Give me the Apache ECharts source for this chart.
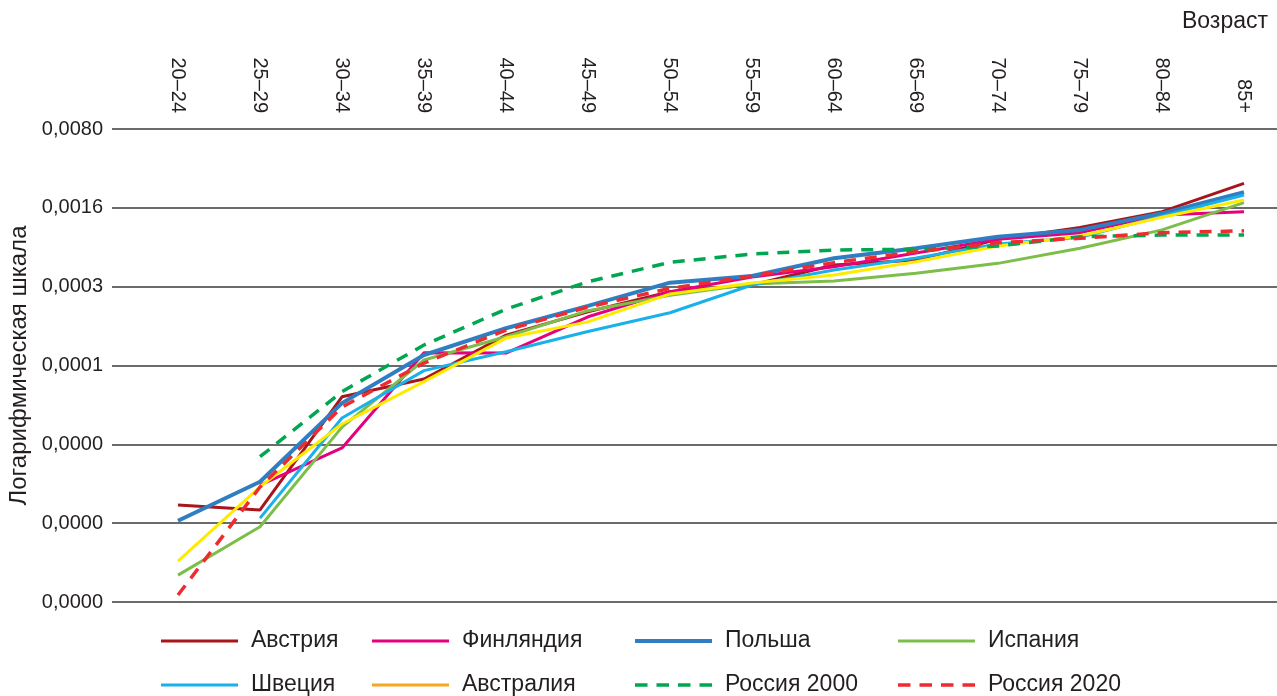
<!DOCTYPE html>
<html>
<head>
<meta charset="utf-8">
<script src="https://cdn.jsdelivr.net/npm/echarts@6/dist/echarts.min.js"></script>
<style>
html,body{margin:0;padding:0;background:#fff;}
#chart{width:1277px;height:696px;}
</style>
</head>
<body>
<div id="chart"></div>
<script>
var categories = ['20–24','25–29','30–34','35–39','40–44','45–49','50–54','55–59','60–64','65–69','70–74','75–79','80–84','85+'];
var yTickLabels = ['0,0000','0,0000','0,0000','0,0001','0,0003','0,0016','0,0080'];

var austria   = [3.71e-6, 3.35e-6, 3.38e-5, 4.85e-5, 1.19e-4, 1.92e-4, 2.89e-4, 3.31e-4, 4.98e-4, 5.51e-4, 8.41e-4, 1.07e-3, 1.48e-3, 2.64e-3];
var finland   = [null,    5.57e-6, 1.19e-5, 8.31e-5, 8.26e-5, 1.73e-4, 2.89e-4, 3.90e-4, 4.81e-4, 6.36e-4, 8.41e-4, 9.64e-4, 1.38e-3, 1.48e-3];
var poland    = [2.69e-6, 5.97e-6, 2.97e-5, 7.93e-5, 1.37e-4, 2.16e-4, 3.47e-4, 3.98e-4, 5.71e-4, 7.00e-4, 8.87e-4, 1.02e-3, 1.43e-3, 2.20e-3];
var spain     = [8.87e-7, 2.38e-6, 1.82e-5, 7.16e-5, 1.15e-4, 1.96e-4, 2.68e-4, 3.38e-4, 3.59e-4, 4.21e-4, 5.15e-4, 7.00e-4, 1.02e-3, 1.78e-3];
var sweden    = [null,    2.84e-6, 2.19e-5, 5.76e-5, 8.48e-5, 1.28e-4, 1.88e-4, 3.31e-4, 4.49e-4, 5.75e-4, 7.64e-4, 8.76e-4, 1.35e-3, 2.08e-3];
var australia = [1.18e-6, 5.38e-6, 1.94e-5, 4.60e-5, 1.12e-4, 1.56e-4, 2.76e-4, 3.45e-4, 4.06e-4, 5.33e-4, 7.34e-4, 9.00e-4, 1.32e-3, 1.88e-3];
var russia2000= [null,    9.94e-6, 3.75e-5, 9.73e-5, 2.02e-4, 3.54e-4, 5.26e-4, 6.23e-4, 6.76e-4, 6.86e-4, 7.34e-4, 8.87e-4, 9.18e-4, 9.18e-4];
var russia2020= [5.90e-7, 5.35e-6, 2.74e-5, 6.73e-5, 1.32e-4, 2.11e-4, 3.09e-4, 3.98e-4, 5.22e-4, 6.53e-4, 7.85e-4, 8.59e-4, 9.63e-4, 1.00e-3];

var yMin = 0.000000512, yMax = 0.008;
var FONT = 'Liberation Sans';
var TXT = '#231f20';

function line(name, data, color, width, dash){
  return {
    name: name, type: 'line', data: data, xAxisIndex: 0, yAxisIndex: 0,
    symbol: 'none', connectNulls: false, animation: false,
    lineStyle: {color: color, width: width, type: dash ? [12, 9] : 'solid'},
    itemStyle: {color: color},
    emphasis: {disabled: true}
  };
}

var DASH_ICON = 'path://M0,0h12.5v4h-12.5z M21.5,0h12.5v4h-12.5z M43,0h12.5v4h-12.5z M64.5,0h12.5v4h-12.5z';
function legendItem(name, left, top, opts){
  opts = opts || {};
  var item = {name: name, icon: opts.dash ? DASH_ICON : 'rect'};
  if (opts.color) item.itemStyle = {color: opts.color};
  return {
    orient: 'horizontal', left: left, top: top,
    itemWidth: 77, itemHeight: opts.h || 3, itemGap: 0, padding: 0,
    selectedMode: false, symbolKeepAspect: false,
    textStyle: {fontFamily: FONT, fontSize: 23, lineHeight: 24, color: TXT, padding: [0, 0, 0, 8]},
    data: [item]
  };
}

var R1 = 629, R2 = 673;
var chart = echarts.init(document.getElementById('chart'), null, {renderer: 'canvas'});
chart.setOption({
  backgroundColor: '#fff',
  animation: false,
  title: {text: 'Возраст', right: 9, top: 10, padding: 0, textStyle: {fontFamily: FONT, fontSize: 23, fontWeight: 'normal', color: TXT}},
  legend: [
    legendItem('Австрия', 161, R1),
    legendItem('Финляндия', 372, R1),
    legendItem('Польша', 635, R1, {h: 4}),
    legendItem('Испания', 898, R1),
    legendItem('Швеция', 161, R2),
    legendItem('Австралия', 372, R2, {color: '#F6A623'}),
    legendItem('Россия 2000', 635, R2, {dash: true, h: 3.5}),
    legendItem('Россия 2020', 898, R2, {dash: true, h: 3.5})
  ],
  grid: [
    {left: 178, right: 33, top: 129, bottom: 94, outerBoundsMode: 'none', containLabel: false},
    {left: 112, right: 0, top: 129, bottom: 94, outerBoundsMode: 'none', containLabel: false}
  ],
  xAxis: [
    {type: 'category', gridIndex: 0, position: 'top', data: categories, boundaryGap: false,
     axisLine: {show: false}, axisTick: {show: false}, splitLine: {show: false},
     axisLabel: {interval: 0, rotate: 90, margin: 16, fontFamily: FONT, fontSize: 20, color: TXT}},
    {type: 'value', gridIndex: 1, min: 0, max: 1, show: false}
  ],
  yAxis: [
    {type: 'log', logBase: 5, gridIndex: 0, min: yMin, max: yMax, show: false},
    {type: 'log', logBase: 5, gridIndex: 1, min: yMin, max: yMax, splitNumber: 6,
     name: 'Логарифмическая шкала', nameLocation: 'middle', nameGap: 73,
     nameTextStyle: {fontFamily: FONT, fontSize: 24, color: TXT},
     axisLine: {show: false}, axisTick: {show: false},
     splitLine: {show: true, lineStyle: {color: '#3a3a3a', width: 1.7}},
     axisLabel: {margin: 9, fontFamily: FONT, fontSize: 20, color: TXT,
       formatter: function(v){ var e = Math.round(Math.log(v / yMin) / Math.log(5)); return yTickLabels[e] !== undefined ? yTickLabels[e] : ''; }}}
  ],
  series: [
    line('Австрия', austria, '#A8161D', 3),
    line('Финляндия', finland, '#E6007E', 3),
    line('Польша', poland, '#2F7EC2', 4),
    line('Испания', spain, '#7DBE4A', 3),
    line('Швеция', sweden, '#1AB1EA', 3),
    line('Австралия', australia, '#FFEA00', 3),
    line('Россия 2000', russia2000, '#00A650', 3.5, true),
    line('Россия 2020', russia2020, '#EE2B30', 3.5, true)
  ]
});
</script>
</body>
</html>
